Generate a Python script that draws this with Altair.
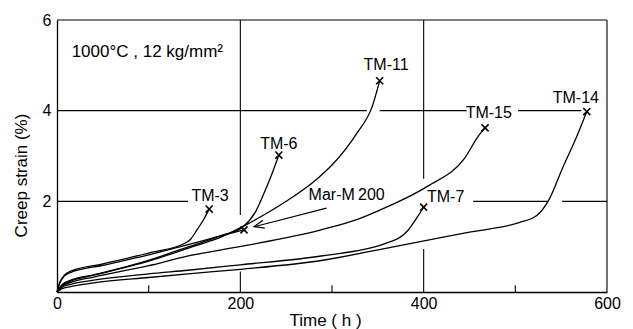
import altair as alt
import pandas as pd

# ---- creep curves (time h, creep strain %) ----
TM3_T = [0, 3, 8, 15, 50, 100, 140, 146, 153, 160, 166]
TM3_S = [0, 0.21, 0.37, 0.46, 0.62, 0.86, 1.08, 1.17, 1.38, 1.6, 1.83]

MAR_T = [0, 3, 8, 15, 50, 100, 144, 175, 204]
MAR_S = [0, 0.2, 0.35, 0.43, 0.59, 0.82, 1.05, 1.22, 1.37]

TM6_T = [0, 5, 15, 40, 100, 144, 180, 203, 216, 225, 234, 242]
TM6_S = [0, 0.15, 0.26, 0.38, 0.7, 1.0, 1.25, 1.44, 1.75, 2.14, 2.58, 3.02]

TM11_T = [0, 5, 15, 40, 100, 145, 180, 206, 250, 284, 300, 327, 344, 352]
TM11_S = [0, 0.14, 0.24, 0.37, 0.68, 0.98, 1.22, 1.48, 2.0, 2.5, 2.8, 3.5, 4.1, 4.66]

TM15_T = [0, 5, 15, 40, 100, 142, 199, 288, 330, 357, 404, 445, 460, 467]
TM15_S = [0, 0.12, 0.21, 0.33, 0.58, 0.79, 1.0, 1.37, 1.62, 1.85, 2.33, 2.96, 3.45, 3.62]

TM7_T = [0, 5, 15, 40, 100, 143, 200, 290, 357, 382, 393, 400]
TM7_S = [0, 0.1, 0.17, 0.26, 0.4, 0.48, 0.6, 0.8, 1.06, 1.34, 1.65, 1.87]

TM14_T = [0, 5, 15, 40, 100, 143, 200, 290, 360, 450, 504, 523, 537, 551, 567, 578]
TM14_S = [0, 0.07, 0.12, 0.2, 0.32, 0.4, 0.5, 0.7, 0.97, 1.32, 1.53, 1.68, 2.05, 2.71, 3.43, 3.98]

CURVES = {
    "TM-3": (TM3_T, TM3_S),
    "Mar-M200": (MAR_T, MAR_S),
    "TM-6": (TM6_T, TM6_S),
    "TM-11": (TM11_T, TM11_S),
    "TM-15": (TM15_T, TM15_S),
    "TM-7": (TM7_T, TM7_S),
    "TM-14": (TM14_T, TM14_S),
}

# ---- curve labels ----
LABEL_TEXT = ["TM-3", "TM-6", "TM-11", "TM-15", "TM-14", "TM-7", "Mar-M\u2009200"]
LABEL_T = [167, 242, 359, 471, 566, 424, 316]
LABEL_S = [2.11, 3.26, 5.0, 3.95, 4.27, 2.1, 2.13]

NOTE_TEXT = ["1000\u00b0C , 12 kg/mm\u00b2"]
NOTE_T = [16]
NOTE_S = [5.3]

# ---- arrow (tail -> head) pointing at Mar-M200 rupture ----
ARROW_T = [294, 215]
ARROW_S = [1.85, 1.44]

# ---- grid / frame segments (t1, t2, s1, s2) ----
SEG_T1 = [0, 0, 352, 503, 0, 454, 551, 200, 200, 400, 400, 600]
SEG_T2 = [600, 338, 447, 572, 143, 535, 600, 200, 200, 400, 400, 600]
SEG_S1 = [6, 4, 4, 4, 2, 2, 2, 6, 0, 6, 0, 0]
SEG_S2 = [6, 4, 4, 4, 2, 2, 2, 1.7, 0.45, 2.5, 0.95, 6]

MINOR_T = [100, 300, 500]
MINOR_LEN = 0.15

# ---- build tables ----
rows = []
for name, (ts, ss) in CURVES.items():
    for i, (t, s) in enumerate(zip(ts, ss)):
        rows.append({"series": name, "t": t, "s": s, "i": i})
curve_df = pd.DataFrame(rows)
end_df = pd.DataFrame(
    [{"series": n, "t": ts[-1], "s": ss[-1]} for n, (ts, ss) in CURVES.items()]
)
label_df = pd.DataFrame({"text": LABEL_TEXT, "t": LABEL_T, "s": LABEL_S})
note_df = pd.DataFrame({"text": NOTE_TEXT, "t": NOTE_T, "s": NOTE_S})
seg_df = pd.DataFrame({"t1": SEG_T1, "t2": SEG_T2, "s1": SEG_S1, "s2": SEG_S2})
minor_df = pd.DataFrame({"t": MINOR_T, "s1": [0] * len(MINOR_T), "s2": [MINOR_LEN] * len(MINOR_T)})
arrow_df = pd.DataFrame({"t1": [ARROW_T[0]], "s1": [ARROW_S[0]], "t2": [ARROW_T[1]], "s2": [ARROW_S[1]]})
head_df = pd.DataFrame({"t": [ARROW_T[1]], "s": [ARROW_S[1]]})

FONT = "Liberation Sans"
xscale = alt.Scale(domain=[0, 600], nice=False, zero=False)
yscale = alt.Scale(domain=[0, 6], nice=False, zero=False)
xaxis = alt.Axis(values=[0, 200, 400, 600], ticks=False, grid=False, domainColor="black",
                 domainWidth=1.3, labelFont=FONT, labelFontSize=16, labelColor="black",
                 labelPadding=3, labelFlush=False, title="Time ( h )", titleFont=FONT,
                 titleFontSize=17, titleFontWeight="normal", titleColor="black",
                 titleX=268, titleY=20, titleAlign="center", titleBaseline="top")
yaxis = alt.Axis(values=[2, 4, 6], ticks=False, grid=False, domainColor="black",
                 domainWidth=1.3, labelFont=FONT, labelFontSize=16, labelColor="black",
                 labelPadding=6, labelFlush=False, title="Creep  strain  (%)", titleFont=FONT,
                 titleFontSize=17, titleFontWeight="normal", titleColor="black",
                 titleX=-36, titleY=155, titleAlign="center", titleBaseline="middle")


def X(f):
    return alt.X(f, type="quantitative", scale=xscale, axis=xaxis)


def Y(f):
    return alt.Y(f, type="quantitative", scale=yscale, axis=yaxis)


segs = alt.Chart(seg_df).mark_rule(color="black", strokeWidth=1.1).encode(
    x=X("t1"), x2="t2", y=Y("s1"), y2="s2")
minor = alt.Chart(minor_df).mark_rule(color="black", strokeWidth=1.1).encode(
    x=X("t"), y=Y("s1"), y2="s2")
lines = alt.Chart(curve_df).mark_line(color="black", strokeWidth=1.3, interpolate="monotone").encode(
    x=X("t"), y=Y("s"), detail="series:N", order="i:Q")
marks = alt.Chart(end_df).mark_point(shape="M-1,-1L1,1M-1,1L1,-1", size=50, filled=False,
                                     color="black", strokeWidth=1.6, opacity=1).encode(
    x=X("t"), y=Y("s"))
arrow = alt.Chart(arrow_df).mark_rule(color="black", strokeWidth=1.1).encode(
    x=X("t1"), x2="t2", y=Y("s1"), y2="s2")
head = alt.Chart(head_df).mark_point(shape="M1,-0.4L0,0L1,0.4", size=400, filled=False,
                                     color="black", strokeWidth=1.2, angle=345.5, opacity=1).encode(
    x=X("t"), y=Y("s"))
labels = alt.Chart(label_df).mark_text(font=FONT, fontSize=16, color="black",
                                       align="center", baseline="middle").encode(
    x=X("t"), y=Y("s"), text="text:N")
note = alt.Chart(note_df).mark_text(font=FONT, fontSize=17, color="black",
                                    align="left", baseline="middle").encode(
    x=X("t"), y=Y("s"), text="text:N")

chart = alt.layer(segs, minor, lines, marks, arrow, head, labels, note).properties(
    width=550, height=272,
    autosize=alt.AutoSizeParams(type="none"),
    padding={"left": 49, "top": 12, "right": 18, "bottom": 37},
).configure_view(stroke=None)

chart.save("out.html", embed_options={"renderer": "svg", "actions": False})
